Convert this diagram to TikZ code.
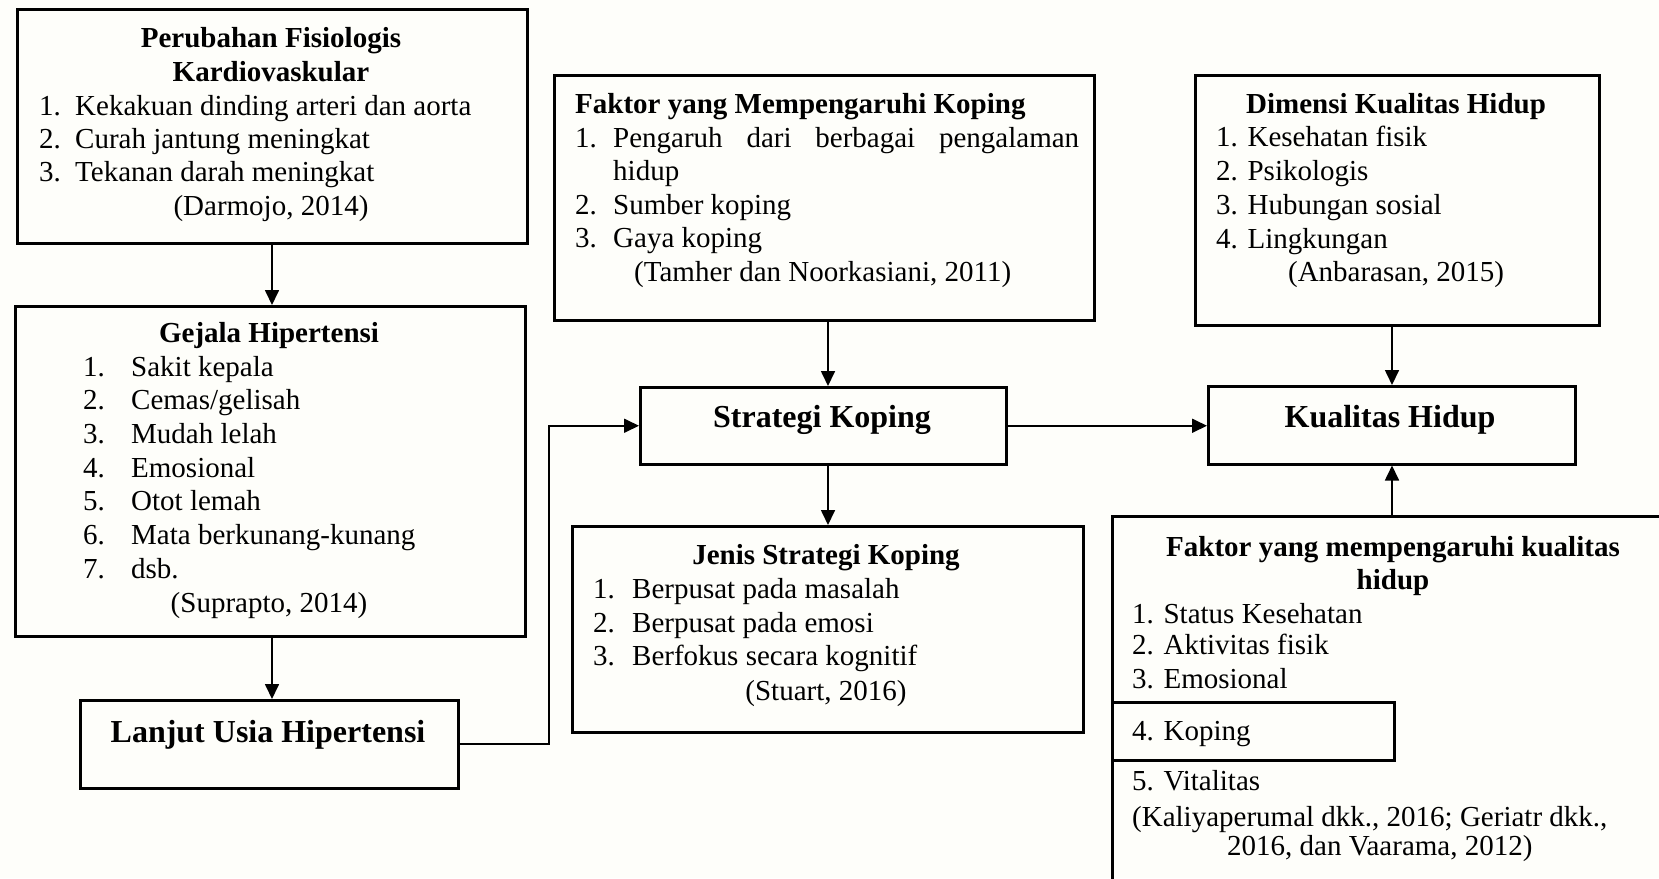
\documentclass[tikz,border=0pt]{standalone}
\usepackage{fontspec}
\setmainfont{Liberation Serif}
\usetikzlibrary{arrows.meta}
\definecolor{bgc}{RGB}{254,254,250}
\begin{document}
\begin{tikzpicture}[x=1pt,y=-1pt,
  box/.style={draw, line width=2.5pt, anchor=north west, inner sep=0pt},
  t/.style={inner sep=0pt, font=\fontsize{29}{33.5}\selectfont},
  tb/.style={inner sep=0pt, font=\fontsize{29}{33.5}\selectfont\bfseries},
  big/.style={inner sep=0pt, font=\fontsize{32}{36}\selectfont\bfseries},
  arr/.style={line width=1.7pt, -{Triangle[length=15pt,width=14pt]}}]
\fill[bgc] (0,0) rectangle (1659,878);
\useasboundingbox (0,0) rectangle (1659,878);

% boxes
\node[box, minimum width=510pt, minimum height=234pt] (b1) at (16,8) {};
\node[box, minimum width=510pt, minimum height=330pt] (gejala) at (14,305) {};
\node[box, minimum width=378pt, minimum height=88pt] (lanjut) at (79,699) {};
\node[box, minimum width=540pt, minimum height=245pt] (fk) at (553,74) {};
\node[box, minimum width=366pt, minimum height=77pt] (strat) at (639,386) {};
\node[box, minimum width=511pt, minimum height=206pt] (jenis) at (571,525) {};
\node[box, minimum width=404pt, minimum height=250pt] (dim) at (1194,74) {};
\node[box, minimum width=367pt, minimum height=78pt] (kh) at (1207,385) {};
\node[box, minimum width=564pt, minimum height=420pt] (qol) at (1111,515) {};
\node[box, minimum width=282pt, minimum height=58pt] (qk) at (1111,701) {};

% box 1
\node[tb, anchor=base] (b1h1) at (271,47) {Perubahan Fisiologis};
\node[tb, anchor=base] (b1h2) at (271,81) {Kardiovaskular};
\foreach \n/\txt/\yy in {1/{Kekakuan dinding arteri dan aorta}/115, 2/{Curah jantung meningkat}/148, 3/{Tekanan darah meningkat}/181}{
  \node[t, anchor=base west] (b1n\n) at (39,\yy) {\n.};
  \node[t, anchor=base west] (b1i\n) at (75,\yy) {\txt};
}
\node[t, anchor=base] (b1c) at (271,215) {(Darmojo, 2014)};

% gejala
\node[tb, anchor=base] (gh) at (269,342) {Gejala Hipertensi};
\foreach \n/\txt/\yy in {1/{Sakit kepala}/376, 2/{Cemas/gelisah}/409, 3/{Mudah lelah}/443, 4/{Emosional}/477, 5/{Otot lemah}/510, 6/{Mata berkunang-kunang}/544, 7/{dsb.}/578}{
  \node[t, anchor=base west] (gn\n) at (83,\yy) {\n.};
  \node[t, anchor=base west] (gi\n) at (131,\yy) {\txt};
}
\node[t, anchor=base] (gc) at (269,612) {(Suprapto, 2014)};

% lanjut
\node[big, anchor=base] (lt) at (268,742) {Lanjut Usia Hipertensi};

% faktor koping
\node[tb, anchor=base west] (fkh) at (575,113) {Faktor yang Mempengaruhi Koping};
\node[t, anchor=base west] (fkn1) at (575,147) {1.};
\node[t, anchor=base west] (fki1) at (613,147) {\makebox[466pt][s]{Pengaruh dari berbagai pengalaman}};
\node[t, anchor=base west] (fki1b) at (613,180) {hidup};
\node[t, anchor=base west] (fkn2) at (575,214) {2.};
\node[t, anchor=base west] (fki2) at (613,214) {Sumber koping};
\node[t, anchor=base west] (fkn3) at (575,247) {3.};
\node[t, anchor=base west] (fki3) at (613,247) {Gaya koping};
\node[t, anchor=base west] (fkc) at (634,281) {(Tamher dan Noorkasiani, 2011)};

% strategi, kualitas
\node[big, anchor=base] (st) at (822,427) {Strategi Koping};
\node[big, anchor=base] (kt) at (1390,427) {Kualitas Hidup};

% jenis
\node[tb, anchor=base] (jh) at (826,564) {Jenis Strategi Koping};
\foreach \n/\txt/\yy in {1/{Berpusat pada masalah}/598, 2/{Berpusat pada emosi}/632, 3/{Berfokus secara kognitif}/665}{
  \node[t, anchor=base west] (jn\n) at (593,\yy) {\n.};
  \node[t, anchor=base west] (ji\n) at (632,\yy) {\txt};
}
\node[t, anchor=base] (jc) at (826,700) {(Stuart, 2016)};

% dimensi
\node[tb, anchor=base] (dh) at (1396,113) {Dimensi Kualitas Hidup};
\foreach \n/\txt/\yy in {1/{1. Kesehatan fisik}/146, 2/{2. Psikologis}/180, 3/{3. Hubungan sosial}/214, 4/{4. Lingkungan}/248}{
  \node[t, anchor=base west] (di\n) at (1216,\yy) {\txt};
}
\node[t, anchor=base] (dc) at (1396,281) {(Anbarasan, 2015)};

% faktor kualitas hidup
\node[tb, anchor=base] (qh1) at (1393,556) {Faktor yang mempengaruhi kualitas};
\node[tb, anchor=base] (qh2) at (1393,589) {hidup};
\foreach \n/\txt/\yy in {1/{1. Status Kesehatan}/623, 2/{2. Aktivitas fisik}/654, 3/{3. Emosional}/688, 4/{4. Koping}/740, 5/{5. Vitalitas}/790}{
  \node[t, anchor=base west] (qi\n) at (1132,\yy) {\txt};
}
\node[t, anchor=base west] (qc1) at (1132,826) {(Kaliyaperumal dkk., 2016; Geriatr dkk.,};
\node[t, anchor=base west] (qc2) at (1227,855) {2016, dan Vaarama, 2012)};

% connectors
\coordinate (xl) at (272,0);
\coordinate (xa) at (828,0);
\coordinate (xb) at (1392,0);
\coordinate (bendA) at (549,0);
\draw[arr] (b1.south -| xl) -- (gejala.north -| xl);
\draw[arr] (gejala.south -| xl) -- (lanjut.north -| xl);
\draw[arr] (lanjut.east) -- (lanjut.east -| bendA) -- (bendA |- strat.west) -- (strat.west);
\draw[arr] (fk.south -| xa) -- (strat.north -| xa);
\draw[arr] (strat.south -| xa) -- (jenis.north -| xa);
\draw[arr] (strat.east) -- (kh.west |- strat.east);
\draw[arr] (dim.south -| xb) -- (kh.north -| xb);
\draw[arr] (qol.north -| xb) -- (kh.south -| xb);
\end{tikzpicture}
\end{document}
